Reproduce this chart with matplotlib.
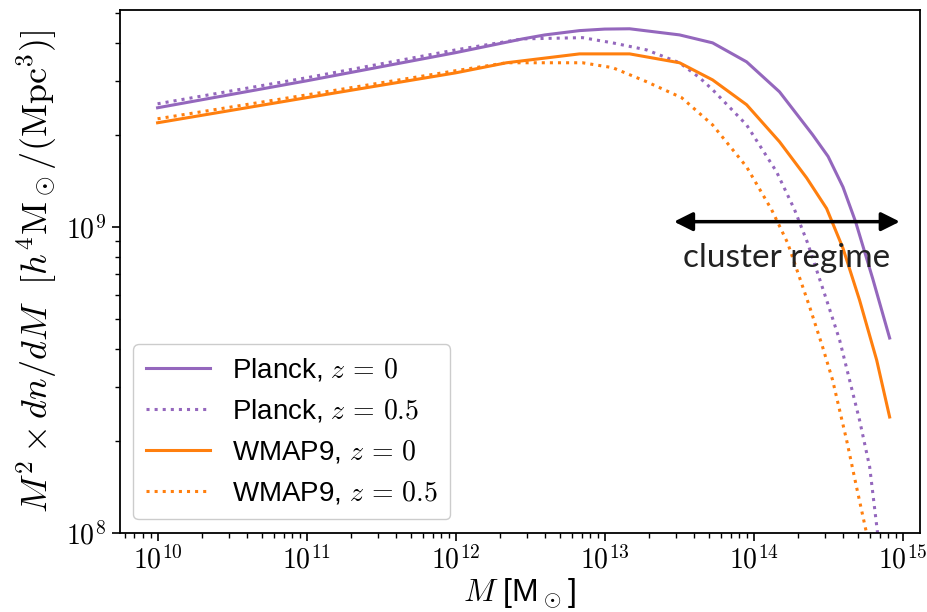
import numpy as np
import matplotlib
matplotlib.use('Agg')
import matplotlib.pyplot as plt
import matplotlib.ticker as mticker

plt.rcParams['mathtext.fontset'] = 'cm'
plt.rcParams['font.family'] = ['Liberation Sans', 'DejaVu Sans']

# log10(M / Msun) and log10(M^2 dn/dM), one pair per curve
planck_z0_logm = [10.0, 11.0, 12.0, 12.45, 12.6, 12.832, 13.0, 13.168, 13.503, 13.725, 13.953,
                  14.174, 14.396, 14.5, 14.6, 14.685, 14.8, 14.913]
planck_z0 = [9.389, 9.477, 9.569, 9.614, 9.627, 9.641, 9.646, 9.647, 9.627, 9.601, 9.539,
             9.441, 9.301, 9.230, 9.130, 9.016, 8.830, 8.637]

planck_z05_logm = [10.0, 11.0, 12.0, 12.45, 12.852, 13.054, 13.282, 13.503, 13.638, 13.725,
                   13.953, 14.154, 14.275, 14.362, 14.49, 14.577, 14.644, 14.711, 14.779,
                   14.832, 14.88]
planck_z05 = [9.402, 9.487, 9.578, 9.614, 9.618, 9.601, 9.578, 9.536, 9.487, 9.448,
              9.333, 9.180, 9.056, 8.948, 8.761, 8.631, 8.500, 8.369, 8.216,
              8.000, 7.80]

wmap_z0_logm = [10.0, 11.0, 12.0, 12.342, 12.832, 13.168, 13.503, 13.725, 13.953, 14.174,
                14.356, 14.49, 14.6, 14.711, 14.826, 14.913]
wmap_z0 = [9.340, 9.422, 9.503, 9.536, 9.565, 9.565, 9.536, 9.480, 9.399, 9.278,
           9.160, 9.060, 8.930, 8.761, 8.565, 8.379]

wmap_z05_logm = [10.0, 11.0, 12.0, 12.342, 12.852, 13.054, 13.282, 13.517, 13.725, 13.953,
                 14.121, 14.228, 14.376, 14.463, 14.53, 14.624, 14.691, 14.758, 14.812]
wmap_z05 = [9.353, 9.431, 9.510, 9.536, 9.536, 9.520, 9.474, 9.422, 9.333, 9.196,
            9.056, 8.948, 8.739, 8.608, 8.500, 8.304, 8.150, 8.000, 7.814]

purple = '#9467bd'
orange = '#ff7f0e'

fig = plt.figure(figsize=(9.27, 6.12), dpi=100)
ax = fig.add_axes([0.129, 0.129, 0.863, 0.855])

ax.plot(10 ** np.array(planck_z0_logm), 10 ** np.array(planck_z0),
        color=purple, lw=2.2, ls='-', label=r'Planck, $z\,=\,0$')
ax.plot(10 ** np.array(planck_z05_logm), 10 ** np.array(planck_z05),
        color=purple, lw=2.2, ls=':', label=r'Planck, $z\,=\,0.5$')
ax.plot(10 ** np.array(wmap_z0_logm), 10 ** np.array(wmap_z0),
        color=orange, lw=2.2, ls='-', label=r'WMAP9, $z\,=\,0$')
ax.plot(10 ** np.array(wmap_z05_logm), 10 ** np.array(wmap_z05),
        color=orange, lw=2.2, ls=':', label=r'WMAP9, $z\,=\,0.5$')

ax.set_xscale('log')
ax.set_yscale('log')
ax.set_xlim(10 ** 9.745, 10 ** 15.114)
ax.set_ylim(1e8, 10 ** 9.709)

fmt = mticker.FuncFormatter(lambda v, p: r'$10^{%d}$' % round(np.log10(v)))
ax.xaxis.set_major_formatter(fmt)
ax.yaxis.set_major_formatter(fmt)
ax.yaxis.set_minor_formatter(mticker.NullFormatter())
ax.xaxis.set_minor_formatter(mticker.NullFormatter())
ax.xaxis.set_minor_locator(mticker.LogLocator(base=10, subs=np.arange(2, 10)))
ax.yaxis.set_minor_locator(mticker.LogLocator(base=10, subs=np.arange(2, 10)))
ax.tick_params(axis='both', which='major', labelsize=20, length=6, width=1.2)
ax.tick_params(axis='both', which='minor', length=3.5, width=1)
for s in ax.spines.values():
    s.set_linewidth(1.3)

ax.set_xlabel(r'$M$ [M$_\odot$]', fontsize=23, labelpad=1)
ax.set_ylabel(r'$M^2 \times dn/dM\ \ [h^4\mathrm{M}_\odot/(\mathrm{Mpc}^3)]$', fontsize=26, labelpad=5)

# cluster regime arrow
ax.annotate('', xy=(1e15, 1.04e9), xytext=(2.8e13, 1.04e9),
            arrowprops=dict(arrowstyle='<|-|>', color='black', lw=2.5, mutation_scale=28))
ax.text(10 ** 14.22, 7.9e8, 'cluster regime', fontsize=24, family=['Lato', 'DejaVu Sans'],
        ha='center', va='center', color='#222222')

leg = ax.legend(loc='lower left', fontsize=20, frameon=True, handlelength=2.3,
                borderpad=0.45, labelspacing=0.5, framealpha=1)
leg.get_frame().set_edgecolor('#cccccc')

fig.savefig('out.png', dpi=100)
